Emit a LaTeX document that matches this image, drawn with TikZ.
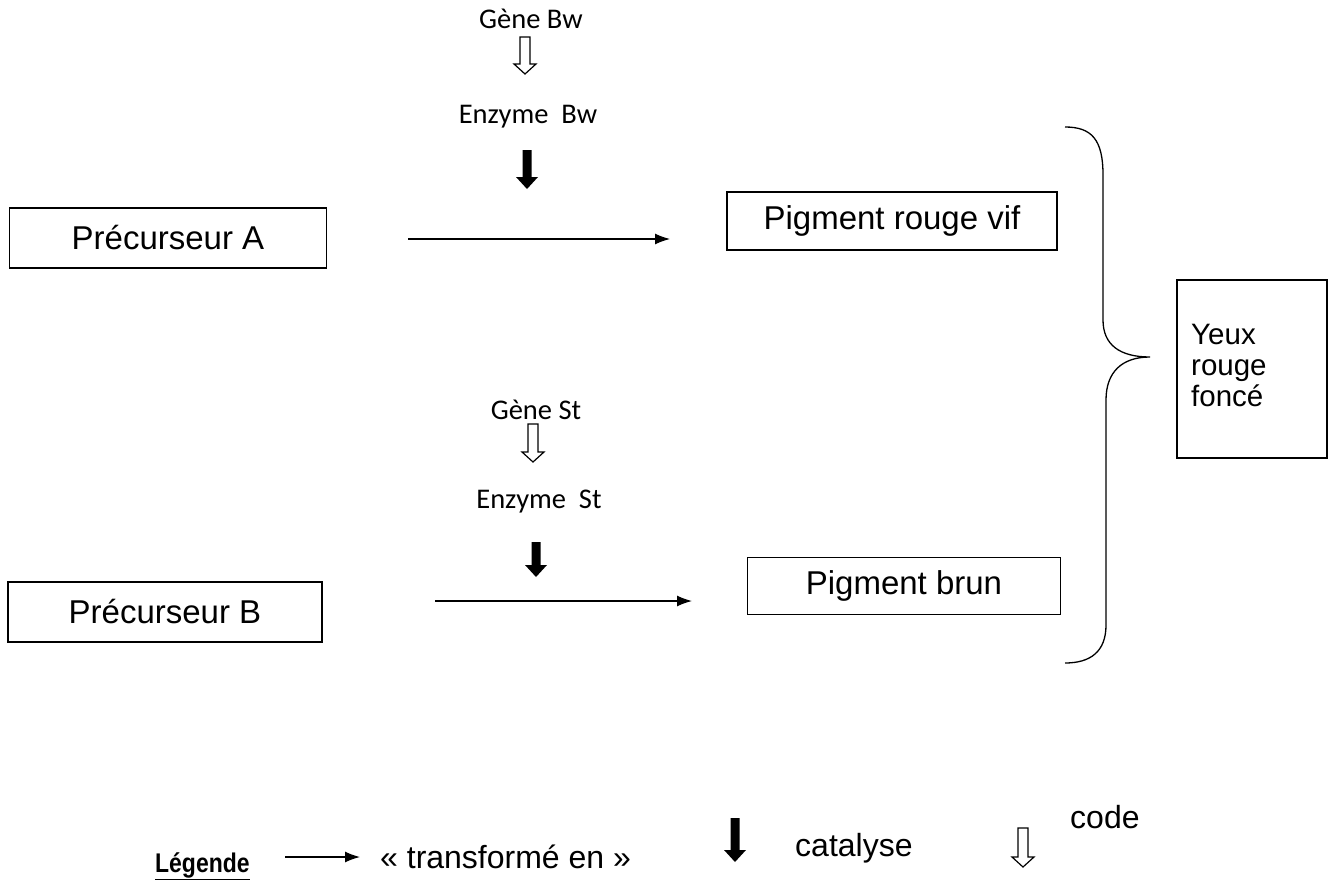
\documentclass[tikz,border=0pt]{standalone}
\usepackage{fontspec}
\setmainfont{Liberation Sans}
\newfontfamily\calib{Carlito}
\usetikzlibrary{arrows.meta}
\newcommand{\hollowdown}[3]{%
  \draw[line width=1.2pt, line join=miter] (#1-5,#2) -- (#1+5,#2) -- (#1+5,#3-10) -- (#1+11,#3-10) -- (#1,#3) -- (#1-11,#3-10) -- (#1-5,#3-10) -- cycle;}
\newcommand{\blackdown}[3]{%
  \fill (#1-4.5,#2) -- (#1+4.5,#2) -- (#1+4.5,#3-12) -- (#1+11,#3-12) -- (#1,#3) -- (#1-11,#3-12) -- (#1-4.5,#3-12) -- cycle;}
\begin{document}
\begin{tikzpicture}[x=1pt,y=-1pt,
  box/.style={draw, line width=1.3pt, inner sep=0pt, font=\fontsize{33}{38}\selectfont},
  lbl/.style={inner sep=0pt, font=\calib\fontsize{28.5}{33}\selectfont},
  txt/.style={inner sep=0pt, font=\fontsize{32}{37}\selectfont},
  rxn/.style={line width=1.3pt, -{Latex[length=15pt,width=11pt]}}]
\useasboundingbox (0,0) rectangle (1335,888);
% boxes
\node[box, minimum width=317pt, minimum height=60pt] (preA) at (168,238) {Précurseur A};
\node[box, minimum width=330pt, minimum height=58pt] (pigA) at (892,221) {Pigment rouge vif};
\node[box, minimum width=314pt, minimum height=60pt] (preB) at (165,612) {Précurseur B};
\node[box, minimum width=313pt, minimum height=57pt] (pigB) at (904,586) {Pigment brun};
\node[box, minimum width=150pt, minimum height=178pt] (yeux) at (1252,369) {};
\node[inner sep=0pt, anchor=west, align=left, font=\fontsize{29.5}{31}\selectfont] (yeuxt) at (1191,365) {Yeux\\rouge\\foncé};
% gene labels
\node[lbl] (geneBw) at (531,19) {Gène Bw};
\node[lbl] (enzBw) at (528,117) {Enzyme\ \ Bw};
\node[lbl] (geneSt) at (536,410) {Gène St};
\node[lbl] (enzSt) at (539,502) {Enzyme\ \ St};
\hollowdown{525}{37}{74}
\blackdown{527}{150}{189}
\hollowdown{533}{424}{462}
\blackdown{536}{542}{577}
% reaction arrows
\coordinate (a1) at (408,239);
\coordinate (a2) at (670,239);
\coordinate (b1) at (435,601);
\coordinate (b2) at (692,601);
\draw[rxn] (a1) -- (a2);
\draw[rxn] (b1) -- (b2);
% brace
\draw[line width=1.3pt] (1065,127) .. controls (1092,127) and (1103,140) .. (1103,175) -- (1103,320)
  .. controls (1103,345) and (1120,357) .. (1150,357)
  .. controls (1122,357) and (1106,372) .. (1106,400) -- (1106,625)
  .. controls (1106,652) and (1090,663) .. (1065,663);
% legend
\node[inner sep=0pt, anchor=base west] (leg) at (155,872) {\scalebox{0.85}[1]{\fontsize{27}{31}\selectfont\bfseries\underline{Légende}}};
\coordinate (l1) at (285,857);
\coordinate (l2) at (360,857);
\draw[rxn] (l1) -- (l2);
\node[txt, anchor=base west] (transf) at (380,868) {« transformé en »};
\blackdown{735}{818}{862}
\node[txt, anchor=base west] (cat) at (795,856) {catalyse};
\hollowdown{1023}{828}{867}
\node[txt, anchor=base west] (code) at (1070,828) {code};
\end{tikzpicture}
\end{document}
